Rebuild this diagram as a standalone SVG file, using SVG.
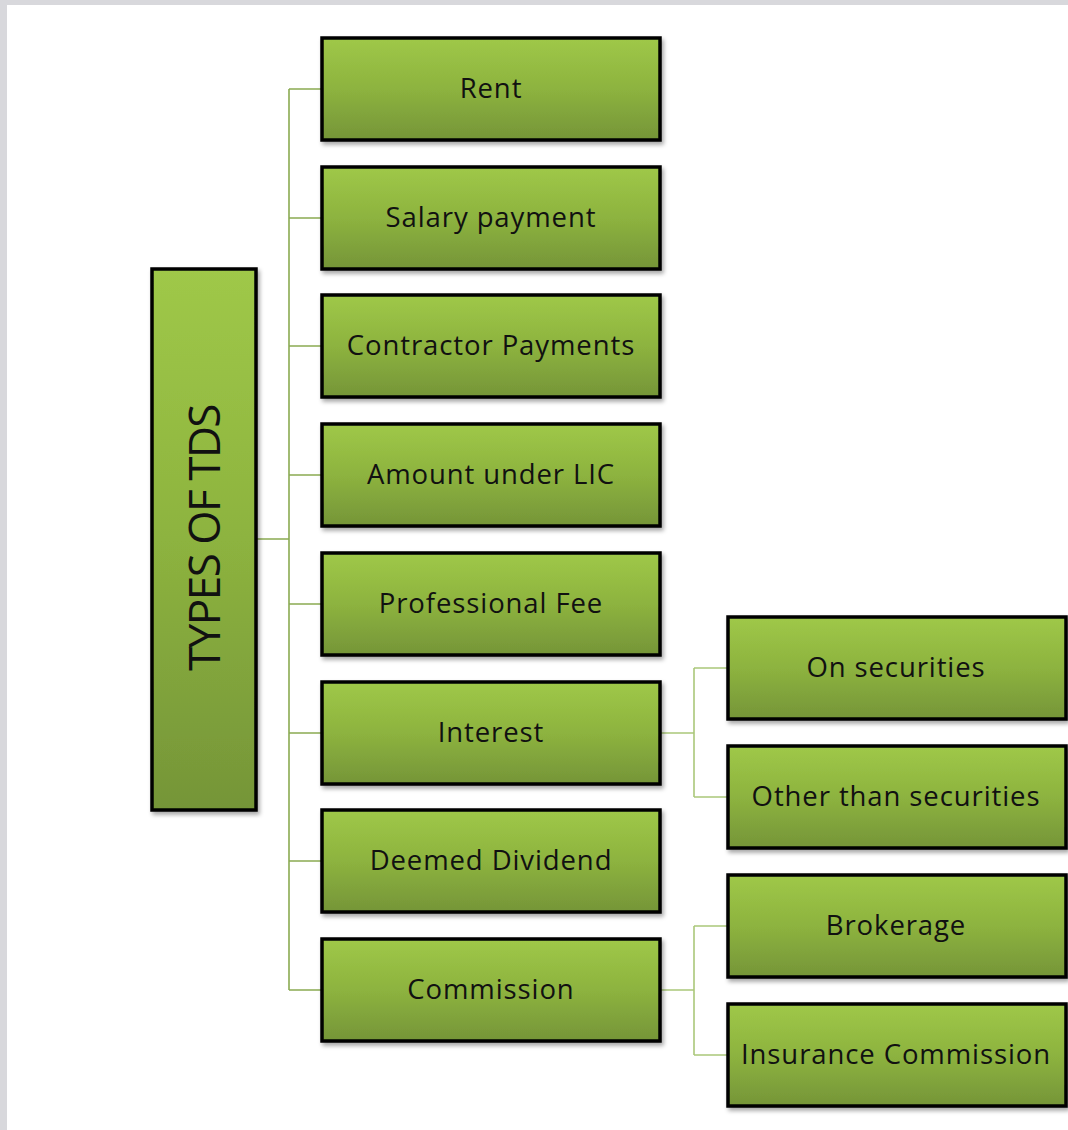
<svg xmlns="http://www.w3.org/2000/svg" width="1068" height="1130" viewBox="0 0 1068 1130">
  <defs>
    <linearGradient id="boxFill" x1="0" y1="0" x2="0" y2="1">
      <stop offset="0" stop-color="#9fc848"/>
      <stop offset="0.5" stop-color="#8db33f"/>
      <stop offset="1" stop-color="#759538"/>
    </linearGradient>
    <filter id="shadow" x="-5%" y="-5%" width="115%" height="120%">
      <feDropShadow dx="2" dy="3" stdDeviation="2" flood-color="#000" flood-opacity="0.35"/>
    </filter>
  </defs>
  <style>
    .box { fill: url(#boxFill); stroke: #000; stroke-width: 3.5; filter: url(#shadow); }
    .label { font-family: "Open Sans", "Liberation Sans", sans-serif; font-size: 27.5px; fill: #111; text-anchor: middle; dominant-baseline: central; letter-spacing: 0.9px; }
    .root-label { font-family: "Open Sans", "Liberation Sans", sans-serif; font-size: 44px; fill: #111; text-anchor: middle; letter-spacing: -1.5px; }
    .conn { fill: none; stroke: #8aab52; stroke-width: 1.6; }
    .conn-sub { fill: none; stroke: #abc77a; stroke-width: 1.6; }
  </style>

  <!-- backdrop -->
  <rect x="0" y="0" width="1068" height="1130" fill="#d8d8dc"/>
  <rect x="7" y="5" width="1061" height="1125" fill="#ffffff"/>

  <!-- connectors -->
  <g id="connectors">
    <path class="conn" d="M256 539 H289 M289 89 V990 M289 89 H322 M289 218 H322 M289 346 H322 M289 475 H322 M289 604 H322 M289 733 H322 M289 861 H322 M289 990 H322"/>
    <path class="conn-sub" d="M660 733 H694 M694 668 V797 M694 668 H728 M694 797 H728"/>
    <path class="conn-sub" d="M660 990 H694 M694 926 V1055 M694 926 H728 M694 1055 H728"/>
  </g>

  <!-- root -->
  <g id="node-root">
    <rect class="box" x="152" y="269" width="104" height="541"/>
    <text class="root-label" transform="translate(220 538) rotate(-90)">TYPES OF TDS</text>
  </g>

  <!-- first level -->
  <g id="node-rent">
    <rect class="box" x="322" y="38" width="338" height="102"/>
    <text class="label" x="491" y="87">Rent</text>
  </g>
  <g id="node-salary">
    <rect class="box" x="322" y="167" width="338" height="102"/>
    <text class="label" x="491" y="216">Salary payment</text>
  </g>
  <g id="node-contractor">
    <rect class="box" x="322" y="295" width="338" height="102"/>
    <text class="label" x="491" y="344">Contractor Payments</text>
  </g>
  <g id="node-lic">
    <rect class="box" x="322" y="424" width="338" height="102"/>
    <text class="label" x="491" y="473">Amount under LIC</text>
  </g>
  <g id="node-professional">
    <rect class="box" x="322" y="553" width="338" height="102"/>
    <text class="label" x="491" y="602">Professional Fee</text>
  </g>
  <g id="node-interest">
    <rect class="box" x="322" y="682" width="338" height="102"/>
    <text class="label" x="491" y="731">Interest</text>
  </g>
  <g id="node-dividend">
    <rect class="box" x="322" y="810" width="338" height="102"/>
    <text class="label" x="491" y="859">Deemed Dividend</text>
  </g>
  <g id="node-commission">
    <rect class="box" x="322" y="939" width="338" height="102"/>
    <text class="label" x="491" y="988">Commission</text>
  </g>

  <!-- second level -->
  <g id="node-on-securities">
    <rect class="box" x="728" y="617" width="338" height="102"/>
    <text class="label" x="896" y="666">On securities</text>
  </g>
  <g id="node-other-securities">
    <rect class="box" x="728" y="746" width="338" height="102"/>
    <text class="label" x="896" y="795">Other than securities</text>
  </g>
  <g id="node-brokerage">
    <rect class="box" x="728" y="875" width="338" height="102"/>
    <text class="label" x="896" y="924">Brokerage</text>
  </g>
  <g id="node-insurance">
    <rect class="box" x="728" y="1004" width="338" height="102"/>
    <text class="label" x="896" y="1053">Insurance Commission</text>
  </g>
</svg>
